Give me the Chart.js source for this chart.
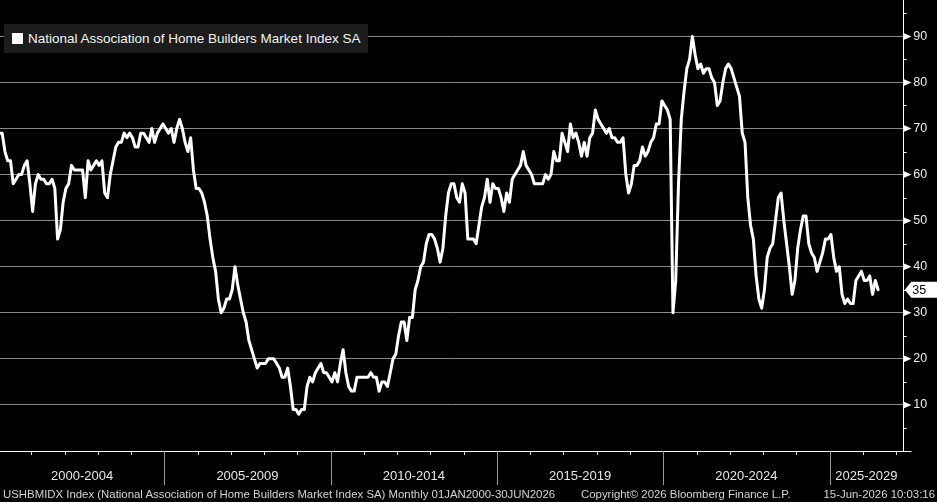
<!DOCTYPE html>
<html><head><meta charset="utf-8">
<script src="https://cdn.jsdelivr.net/npm/chart.js@4.4.1/dist/chart.umd.min.js"></script>
<style>
html,body{margin:0;padding:0;background:#000;}
#wrap{position:relative;width:937px;height:502px;overflow:hidden;background:#000;font-family:"Liberation Sans",Arial,sans-serif;}
#c{position:absolute;left:0;top:0;}
#legend{position:absolute;left:4px;top:24px;width:364px;height:29px;background:#1c1c1c;color:#f2f2f2;font-size:13.5px;line-height:29px;white-space:nowrap;}
#legend .sw{position:absolute;left:8px;top:9px;width:11px;height:11px;background:#fff;}
#legend .tx{position:absolute;left:24px;top:0;}
.foot{position:absolute;top:488px;font-size:11.4px;line-height:12px;color:#d4d4d4;white-space:nowrap;}
</style></head><body>
<div id="wrap">
<canvas id="c" width="937" height="502"></canvas>
<div id="legend"><span class="sw"></span><span class="tx">National Association of Home Builders Market Index SA</span></div>
<div class="foot" style="left:3px">USHBMIDX Index (National Association of Home Builders Market Index SA) Monthly 01JAN2000-30JUN2026</div>
<div class="foot" style="left:581px">Copyright© 2026 Bloomberg Finance L.P.</div>
<div class="foot" style="right:2px">15-Jun-2026 10:03:16</div>
</div>
<script>
// Monthly values, January..December, one array per year
const v2000 = [69, 69, 65, 63, 63, 58, 59, 60, 60, 62, 63, 58];
const v2001 = [52, 58, 60, 59, 59, 58, 58, 59, 57, 46, 48, 54];
const v2002 = [57, 58, 62, 61, 61, 61, 61, 55, 63, 61, 62, 63];
const v2003 = [62, 63, 56, 55, 60, 63, 66, 67, 67, 69, 68, 69];
const v2004 = [68, 66, 66, 69, 69, 68, 67, 70, 67, 69, 70, 71];
const v2005 = [70, 69, 70, 67, 70, 72, 70, 67, 65, 68, 61, 57];
const v2006 = [57, 56, 54, 51, 46, 42, 39, 33, 30, 31, 33, 33];
const v2007 = [35, 40, 36, 33, 30, 28, 24, 22, 20, 18, 19, 19];
const v2008 = [19, 20, 20, 20, 19, 18, 16, 16, 18, 14, 9, 9];
const v2009 = [8, 9, 9, 14, 16, 15, 17, 18, 19, 17, 17, 16];
const v2010 = [15, 17, 15, 19, 22, 17, 14, 13, 13, 16, 16, 16];
const v2011 = [16, 16, 17, 16, 16, 13, 15, 15, 14, 17, 20, 21];
const v2012 = [25, 28, 28, 24, 29, 29, 35, 37, 40, 41, 45, 47];
const v2013 = [47, 46, 44, 41, 44, 51, 56, 58, 58, 55, 54, 58];
const v2014 = [56, 46, 46, 46, 45, 49, 53, 55, 59, 54, 58, 57];
const v2015 = [57, 55, 52, 56, 54, 59, 60, 61, 62, 65, 62, 61];
const v2016 = [60, 58, 58, 58, 58, 60, 59, 60, 65, 63, 63, 69];
const v2017 = [67, 65, 71, 68, 69, 67, 64, 67, 64, 68, 69, 74];
const v2018 = [72, 71, 70, 69, 70, 68, 68, 67, 67, 68, 60, 56];
const v2019 = [58, 62, 62, 63, 66, 64, 65, 67, 68, 71, 71, 76];
const v2020 = [75, 74, 72, 30, 37, 58, 72, 78, 83, 85, 90, 86];
const v2021 = [83, 84, 82, 83, 83, 81, 80, 75, 76, 80, 83, 84];
const v2022 = [83, 81, 79, 77, 69, 67, 55, 49, 46, 38, 33, 31];
const v2023 = [35, 42, 44, 45, 50, 55, 56, 50, 45, 40, 34, 37];
const v2024 = [44, 48, 51, 51, 45, 43, 42, 39, 41, 43, 46, 46];
const v2025 = [47, 42, 39, 40, 34, 32, 33, 32, 32, 37, 38, 39];
const v2026 = [37, 37, 38, 34, 37, 35];

const periodLabels = ['2000-2004', '2005-2009', '2010-2014', '2015-2019', '2020-2024', '2025-2029'];
const yTickValues = [10, 20, 30, 40, 50, 60, 70, 80, 90];
const seriesName = 'National Association of Home Builders Market Index SA';

// x axis measured in months since Jan 2000
const xMin = 0.72, xMax = 326.6;
const series = [].concat(v2000, v2001, v2002, v2003, v2004, v2005, v2006, v2007, v2008, v2009,
  v2010, v2011, v2012, v2013, v2014, v2015, v2016, v2017, v2018, v2019,
  v2020, v2021, v2022, v2023, v2024, v2025, v2026);
const points = series.map((v, i) => ({ x: i + 0.5, y: v }));
const periodCenters = periodLabels.map((_, k) => {
  const s = Math.max(k * 60, xMin), e = Math.min((k + 1) * 60, xMax);
  return (s + e) / 2;
});

const decor = {
  id: 'decor',
  afterDraw(chart) {
    const { ctx, chartArea: a, scales: { x, y } } = chart;
    ctx.save();
    ctx.lineWidth = 1;
    // year ticks and five-year separators
    for (let yr = 1; yr <= 30; yr++) {
      const px = Math.round(x.getPixelForValue(yr * 12)) + 0.5;
      if (px > a.right) break;
      const sep = yr % 5 === 0;
      ctx.strokeStyle = sep ? '#9a9a9a' : '#e0e0e0';
      ctx.beginPath();
      ctx.moveTo(px, a.bottom);
      ctx.lineTo(px, a.bottom + (sep ? 34 : 4));
      ctx.stroke();
    }
    // y minor ticks
    const rx = Math.round(a.right) + 0.5;
    ctx.strokeStyle = '#ffffff';
    for (let v = 5; v < 98; v += 10) {
      const py = Math.round(y.getPixelForValue(v)) + 0.5;
      ctx.beginPath(); ctx.moveTo(rx, py); ctx.lineTo(rx + 3, py); ctx.stroke();
    }
    // bottom tick
    ctx.beginPath(); ctx.moveTo(rx, a.bottom + 0.5); ctx.lineTo(rx + 8, a.bottom + 0.5); ctx.stroke();
    // major tick arrows
    ctx.fillStyle = '#ffffff';
    yTickValues.forEach(v => {
      const py = y.getPixelForValue(v);
      ctx.beginPath();
      ctx.moveTo(rx, py - 3.5);
      ctx.lineTo(rx + 8, py);
      ctx.lineTo(rx, py + 3.5);
      ctx.closePath();
      ctx.fill();
    });
    // last value tag
    const last = series[series.length - 1];
    const ly = y.getPixelForValue(last);
    ctx.fillStyle = '#ffffff';
    ctx.beginPath();
    ctx.moveTo(a.right + 1.5, ly);
    ctx.lineTo(a.right + 8, ly - 8);
    ctx.lineTo(chart.width, ly - 8);
    ctx.lineTo(chart.width, ly + 8);
    ctx.lineTo(a.right + 8, ly + 8);
    ctx.closePath();
    ctx.fill();
    ctx.fillStyle = '#000000';
    ctx.font = '12.5px "Liberation Sans", Arial, sans-serif';
    ctx.textBaseline = 'middle';
    ctx.textAlign = 'left';
    ctx.fillText(String(last), a.right + 9, ly + 0.5);
    ctx.restore();
  }
};

new Chart(document.getElementById('c'), {
  type: 'line',
  data: {
    datasets: [{
      label: seriesName,
      data: points,
      borderColor: '#ffffff',
      borderWidth: 3,
      pointRadius: 0,
      tension: 0,
      borderJoinStyle: 'round',
      borderCapStyle: 'round',
      fill: false
    }]
  },
  options: {
    responsive: false,
    animation: false,
    devicePixelRatio: 1,
    layout: { padding: 0 },
    plugins: { legend: { display: false }, tooltip: { enabled: false } },
    scales: {
      x: {
        type: 'linear', position: 'bottom', min: xMin, max: xMax,
        afterBuildTicks(s) { s.ticks = periodCenters.map(v => ({ value: v })); },
        afterFit(s) { s.height = 51; s.paddingLeft = 0; s.paddingRight = 0; },
        grid: { display: false, drawTicks: false },
        border: { display: true, color: '#ffffff', width: 1 },
        ticks: {
          autoSkip: false, maxRotation: 0, minRotation: 0, padding: 18,
          color: '#e6e6e6', font: { family: 'Liberation Sans', size: 13 },
          callback: (v, i) => periodLabels[i]
        }
      },
      y: {
        type: 'linear', position: 'right', min: 0, max: 97.9,
        afterBuildTicks(s) { s.ticks = yTickValues.map(v => ({ value: v })); },
        afterFit(s) { s.width = 33.7; s.paddingTop = 0; s.paddingBottom = 0; },
        grid: { color: '#8a8a8a', lineWidth: 1, drawTicks: false },
        border: { display: true, color: '#ffffff', width: 1 },
        ticks: {
          padding: 10, color: '#ececec', font: { family: 'Liberation Sans', size: 12.5 },
          callback: v => String(v)
        }
      }
    }
  },
  plugins: [decor]
});
</script>
</body></html>
